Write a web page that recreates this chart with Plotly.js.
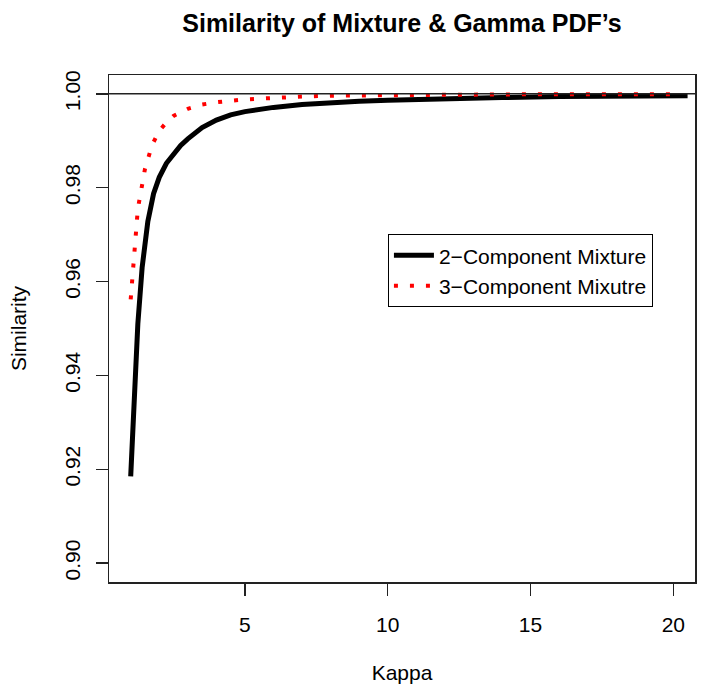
<!DOCTYPE html>
<html>
<head>
<meta charset="utf-8">
<script src="https://cdn.plot.ly/plotly-3.0.1.min.js"></script>
<style>html,body{margin:0;padding:0;background:#fff;}#chart{width:709px;height:693px;}</style>
</head>
<body>
<div id="chart"></div>
<script>
// Data
var kappa2 = [1, 1.25, 1.4, 1.6, 1.8, 2, 2.25, 2.5, 2.75, 3, 3.5, 4, 4.5, 5, 6, 7, 8, 9, 10, 12, 14, 16, 18, 20, 20.5];
var sim2   = [0.9185, 0.9510, 0.9630, 0.9728, 0.9787, 0.9822, 0.9852, 0.9873, 0.9890, 0.9904, 0.9928, 0.9944, 0.9955, 0.9962, 0.9971, 0.9977, 0.9981, 0.9984, 0.9986, 0.9990, 0.9992, 0.9994, 0.9995, 0.9996, 0.9996];
var kappa3 = [1, 1.25, 1.5, 1.75, 2, 2.25, 2.5, 3, 3.5, 4, 5, 6, 7, 8, 10, 12, 15, 20];
var sim3   = [0.9562, 0.9755, 0.9840, 0.9891, 0.9921, 0.9939, 0.9953, 0.9968, 0.9977, 0.9982, 0.9988, 0.9992, 0.9994, 0.9996, 0.9997, 0.9998, 0.9999, 0.9999];
var seriesNames = ["2\u2212Component Mixture", "3\u2212Component Mixutre"];
var xTicks = [5, 10, 15, 20];
var yTicks = [0.90, 0.92, 0.94, 0.96, 0.98, 1.00];
var yTickText = ["0.90", "0.92", "0.94", "0.96", "0.98", "1.00"];
var refLevel = 1.0;

var FONT = "Liberation Sans, Arial, Helvetica, sans-serif";
var AX = "#222";
var FS = 21;

var traces = [
  {x: kappa2, y: sim2, type: "scatter", mode: "lines", name: seriesNames[0],
   line: {color: "#000000", width: 5}},
  {x: kappa3, y: sim3, type: "scatter", mode: "lines", name: seriesNames[1],
   line: {color: "#ff0000", width: 4, dash: "4px,12px"}}
];

var layout = {
  width: 709, height: 693,
  paper_bgcolor: "#ffffff", plot_bgcolor: "#ffffff",
  margin: {l: 109, r: 14, t: 75, b: 111, pad: 0},
  font: {family: FONT, size: FS, color: "#000"},
  title: {text: "<b>Similarity of Mixture &amp; Gamma PDF\u2019s</b>", font: {family: FONT, size: 25, color: "#000"},
          x: 0.567, xanchor: "center", y: 0.967, yanchor: "middle"},
  showlegend: true,
  legend: {x: 0.476, y: 0.686, xanchor: "left", yanchor: "top",
           bordercolor: "#000", borderwidth: 1, bgcolor: "#fff",
           font: {family: FONT, size: FS, color: "#000"}, tracegroupgap: 0, itemwidth: 40},
  xaxis: {range: [0.24, 20.76], tickvals: xTicks, ticktext: xTicks.map(String),
          showgrid: false, zeroline: false, showline: true, mirror: true,
          linecolor: AX, linewidth: 1.5, ticks: "outside", ticklen: 12, tickwidth: 1.5, tickcolor: AX,
          tickfont: {family: FONT, size: FS, color: "#000"}, ticklabelstandoff: 11,
          title: {text: "Kappa", font: {family: FONT, size: FS, color: "#000"}, standoff: 30}},
  yaxis: {range: [0.896, 1.004], tickvals: yTicks, ticktext: yTickText,
          showgrid: false, zeroline: false, showline: true, mirror: true,
          linecolor: AX, linewidth: 1.5, ticks: "outside", ticklen: 12, tickwidth: 1.5, tickcolor: AX,
          tickangle: -90, tickfont: {family: FONT, size: FS, color: "#000"}, ticklabelstandoff: 7,
          title: {text: "Similarity", font: {family: FONT, size: FS, color: "#000"}, standoff: 28}},
  shapes: [{type: "line", xref: "paper", x0: 0, x1: 1, yref: "y", y0: refLevel, y1: refLevel,
            line: {color: AX, width: 1.5}}]
};

Plotly.newPlot("chart", traces, layout, {displayModeBar: false, staticPlot: true});
</script>
</body>
</html>
